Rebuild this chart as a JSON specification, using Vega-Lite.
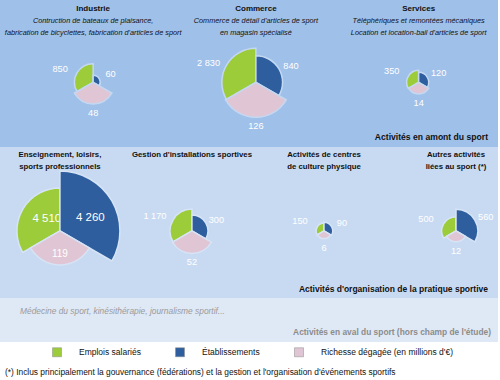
{
  "$schema": "https://vega.github.io/schema/vega-lite/v6.json",
  "padding": 0,
  "spacing": 0,
  "datasets": {
    "pies": [
      {"groupe": "amont", "activite": "Industrie", "mesure": "Emplois salariés", "valeur": 850},
      {"groupe": "amont", "activite": "Industrie", "mesure": "Établissements", "valeur": 60},
      {"groupe": "amont", "activite": "Industrie", "mesure": "Richesse dégagée (en millions d'€)", "valeur": 48},
      {"groupe": "amont", "activite": "Commerce", "mesure": "Emplois salariés", "valeur": 2830},
      {"groupe": "amont", "activite": "Commerce", "mesure": "Établissements", "valeur": 840},
      {"groupe": "amont", "activite": "Commerce", "mesure": "Richesse dégagée (en millions d'€)", "valeur": 126},
      {"groupe": "amont", "activite": "Services", "mesure": "Emplois salariés", "valeur": 350},
      {"groupe": "amont", "activite": "Services", "mesure": "Établissements", "valeur": 120},
      {"groupe": "amont", "activite": "Services", "mesure": "Richesse dégagée (en millions d'€)", "valeur": 14},
      {"groupe": "organisation", "activite": "Enseignement", "mesure": "Emplois salariés", "valeur": 4510},
      {"groupe": "organisation", "activite": "Enseignement", "mesure": "Établissements", "valeur": 4260},
      {"groupe": "organisation", "activite": "Enseignement", "mesure": "Richesse dégagée (en millions d'€)", "valeur": 119},
      {"groupe": "organisation", "activite": "Gestion", "mesure": "Emplois salariés", "valeur": 1170},
      {"groupe": "organisation", "activite": "Gestion", "mesure": "Établissements", "valeur": 300},
      {"groupe": "organisation", "activite": "Gestion", "mesure": "Richesse dégagée (en millions d'€)", "valeur": 52},
      {"groupe": "organisation", "activite": "Culture physique", "mesure": "Emplois salariés", "valeur": 150},
      {"groupe": "organisation", "activite": "Culture physique", "mesure": "Établissements", "valeur": 90},
      {"groupe": "organisation", "activite": "Culture physique", "mesure": "Richesse dégagée (en millions d'€)", "valeur": 6},
      {"groupe": "organisation", "activite": "Autres", "mesure": "Emplois salariés", "valeur": 500},
      {"groupe": "organisation", "activite": "Autres", "mesure": "Établissements", "valeur": 560},
      {"groupe": "organisation", "activite": "Autres", "mesure": "Richesse dégagée (en millions d'€)", "valeur": 12}
    ],
    "activites": [
      {"groupe": "amont", "activite": "Industrie", "titre": "Industrie", "detail": "Contruction de bateaux de plaisance,\nfabrication de bicyclettes, fabrication d'articles de sport"},
      {"groupe": "amont", "activite": "Commerce", "titre": "Commerce", "detail": "Commerce de détail d'articles de sport\nen magasin spécialisé"},
      {"groupe": "amont", "activite": "Services", "titre": "Services", "detail": "Téléphériques et remontées mécaniques\nLocation et location-bail d'articles de sport"},
      {"groupe": "organisation", "activite": "Enseignement", "titre": "Enseignement, loisirs,\nsports professionnels"},
      {"groupe": "organisation", "activite": "Gestion", "titre": "Gestion d'installations sportives"},
      {"groupe": "organisation", "activite": "Culture physique", "titre": "Activités de centres\nde culture physique"},
      {"groupe": "organisation", "activite": "Autres", "titre": "Autres activités\nliées au sport (*)"}
    ]
  },
  "title": {
    "text": "(*) Inclus principalement la gouvernance (fédérations) et la gestion et l'organisation d'événements sportifs",
    "orient": "bottom", "anchor": "start", "dx": 5, "offset": 10,
    "fontSize": 8.4, "fontWeight": "normal", "color": "#111111"
  },
  "vconcat": [
    {
      "width": 498, "height": 147,
      "view": {"fill": "#9fc0e9", "stroke": null},
      "encoding": {
        "x": {"field": "activite", "type": "nominal", "axis": null,
              "scale": {"type": "point", "domain": ["Industrie", "Commerce", "Services"], "padding": 0.53, "align": 0.54}},
        "y": {"field": "groupe", "type": "nominal", "axis": null,
              "scale": {"type": "point", "domain": ["amont"], "padding": 0.5, "align": 0.56}}
      },
      "layer": [
        {
          "data": {"name": "pies"},
          "transform": [{"filter": {"and": [{"field": "groupe", "equal": "amont"}, {"field": "mesure", "equal": "Emplois salariés"}]}}],
          "encoding": {
            "theta": {"field": "mesure", "type": "nominal", "scale": {"type": "band", "domain": ["Établissements", "Richesse dégagée (en millions d'€)", "Emplois salariés"], "paddingInner": 0, "paddingOuter": 0}},
            "radius": {"field": "valeur", "type": "quantitative", "stack": null, "scale": {"type": "sqrt", "zero": true, "domain": [0, 4510], "range": [0, 43]}}
          },
          "layer": [
            {"mark": {"type": "arc", "stroke": "#c4d8f2", "strokeWidth": 1.5},
             "encoding": {
               "color": {"field": "mesure", "type": "nominal",
                 "scale": {"domain": ["Emplois salariés", "Établissements", "Richesse dégagée (en millions d'€)"], "range": ["#9dcc3a", "#2e5e9e", "#e0c6d4"]},
                 "legend": {"title": null, "orient": "none", "legendX": 52, "legendY": 347, "direction": "horizontal", "symbolType": "square", "symbolSize": 81, "symbolStrokeColor": "#8a8a8a", "symbolStrokeWidth": 0.5, "labelFontSize": 8.5, "labelOffset": 17, "columnPadding": 33, "labelColor": "#111111"}}}},
            {"mark": {"type": "text", "radiusOffset": 17, "thetaOffset": -0.14, "fontSize": 9.2, "color": "white"},
             "encoding": {"text": {"field": "valeur", "type": "quantitative", "format": ",d"}}}
          ]
        },
        {
          "data": {"name": "pies"},
          "transform": [{"filter": {"and": [{"field": "groupe", "equal": "amont"}, {"field": "mesure", "equal": "Établissements"}]}}],
          "encoding": {
            "theta": {"field": "mesure", "type": "nominal", "scale": {"type": "band", "domain": ["Établissements", "Richesse dégagée (en millions d'€)", "Emplois salariés"], "paddingInner": 0, "paddingOuter": 0}},
            "radius": {"field": "valeur", "type": "quantitative", "stack": null, "scale": {"type": "sqrt", "zero": true, "domain": [0, 4260], "range": [0, 60]}}
          },
          "layer": [
            {"mark": {"type": "arc", "stroke": "#c4d8f2", "strokeWidth": 1.5},
             "encoding": {
               "color": {"field": "mesure", "type": "nominal",
                 "scale": {"domain": ["Emplois salariés", "Établissements", "Richesse dégagée (en millions d'€)"], "range": ["#9dcc3a", "#2e5e9e", "#e0c6d4"]},
                 "legend": {"title": null, "orient": "none", "legendX": 52, "legendY": 347, "direction": "horizontal", "symbolType": "square", "symbolSize": 81, "symbolStrokeColor": "#8a8a8a", "symbolStrokeWidth": 0.5, "labelFontSize": 8.5, "labelOffset": 17, "columnPadding": 33, "labelColor": "#111111"}}}},
            {"mark": {"type": "text", "radiusOffset": 12, "thetaOffset": 0.09, "fontSize": 9.2, "color": "white"},
             "encoding": {"text": {"field": "valeur", "type": "quantitative", "format": ",d"}}}
          ]
        },
        {
          "data": {"name": "pies"},
          "transform": [{"filter": {"and": [{"field": "groupe", "equal": "amont"}, {"field": "mesure", "equal": "Richesse dégagée (en millions d'€)"}]}}],
          "encoding": {
            "theta": {"field": "mesure", "type": "nominal", "scale": {"type": "band", "domain": ["Établissements", "Richesse dégagée (en millions d'€)", "Emplois salariés"], "paddingInner": 0, "paddingOuter": 0}},
            "radius": {"field": "valeur", "type": "quantitative", "stack": null, "scale": {"type": "sqrt", "zero": true, "domain": [0, 126], "range": [0, 35]}}
          },
          "layer": [
            {"mark": {"type": "arc", "stroke": "#c4d8f2", "strokeWidth": 1.5},
             "encoding": {
               "color": {"field": "mesure", "type": "nominal",
                 "scale": {"domain": ["Emplois salariés", "Établissements", "Richesse dégagée (en millions d'€)"], "range": ["#9dcc3a", "#2e5e9e", "#e0c6d4"]},
                 "legend": {"title": null, "orient": "none", "legendX": 52, "legendY": 347, "direction": "horizontal", "symbolType": "square", "symbolSize": 81, "symbolStrokeColor": "#8a8a8a", "symbolStrokeWidth": 0.5, "labelFontSize": 8.5, "labelOffset": 17, "columnPadding": 33, "labelColor": "#111111"}}}},
            {"mark": {"type": "text", "radiusOffset": 9, "fontSize": 9.2, "color": "white"},
             "encoding": {"text": {"field": "valeur", "type": "quantitative", "format": ",d"}}}
          ]
        },
        {
          "data": {"name": "activites"},
          "transform": [{"filter": {"field": "groupe", "equal": "amont"}}],
          "layer": [
            {"mark": {"type": "text", "fontWeight": "bold", "baseline": "top", "dy": -77, "fontSize": 8, "lineBreak": "\n", "lineHeight": 12, "color": "#111111"},
             "encoding": {"text": {"field": "titre"}}},
            {"mark": {"type": "text", "fontStyle": "italic", "baseline": "top", "dy": -65, "fontSize": 7.3, "lineBreak": "\n", "lineHeight": 11.5, "color": "#111111"},
             "encoding": {"text": {"field": "detail"}}}
          ]
        },
        {
          "data": {"values": [{"libelle": "Activités en amont du sport"}]},
          "mark": {"type": "text", "align": "right", "baseline": "bottom", "dx": -10, "dy": -5, "fontWeight": "bold", "fontSize": 8.6, "color": "#111111"},
          "encoding": {"x": {"value": "width"}, "y": {"value": "height"}, "text": {"field": "libelle"}}
        }
      ],
      "resolve": {"scale": {"radius": "independent"}}
    },
    {
      "width": 498, "height": 151,
      "view": {"fill": "#c8daf2", "stroke": null},
      "encoding": {
        "x": {"field": "activite", "type": "nominal", "axis": null,
              "scale": {"type": "point", "domain": ["Enseignement", "Gestion", "Culture physique", "Autres"], "padding": 0.386, "align": 0.588}},
        "y": {"field": "groupe", "type": "nominal", "axis": null,
              "scale": {"type": "point", "domain": ["organisation"], "padding": 0.5, "align": 0.556}}
      },
      "layer": [
        {
          "data": {"name": "pies"},
          "transform": [{"filter": {"and": [{"field": "groupe", "equal": "organisation"}, {"field": "mesure", "equal": "Emplois salariés"}]}}],
          "encoding": {
            "theta": {"field": "mesure", "type": "nominal", "scale": {"type": "band", "domain": ["Établissements", "Richesse dégagée (en millions d'€)", "Emplois salariés"], "paddingInner": 0, "paddingOuter": 0}},
            "radius": {"field": "valeur", "type": "quantitative", "stack": null, "scale": {"type": "sqrt", "zero": true, "domain": [0, 4510], "range": [0, 43]}}
          },
          "layer": [
            {"mark": {"type": "arc", "stroke": "#d6e4f6", "strokeWidth": 1.5},
             "encoding": {
               "color": {"field": "mesure", "type": "nominal",
                 "scale": {"domain": ["Emplois salariés", "Établissements", "Richesse dégagée (en millions d'€)"], "range": ["#9dcc3a", "#2e5e9e", "#e0c6d4"]},
                 "legend": {"title": null, "orient": "none", "legendX": 52, "legendY": 347, "direction": "horizontal", "symbolType": "square", "symbolSize": 81, "symbolStrokeColor": "#8a8a8a", "symbolStrokeWidth": 0.5, "labelFontSize": 8.5, "labelOffset": 17, "columnPadding": 33, "labelColor": "#111111"}}}},
            {"transform": [{"filter": {"not": {"field": "activite", "equal": "Enseignement"}}}],
             "mark": {"type": "text", "radiusOffset": 18, "thetaOffset": -0.14, "fontSize": 9.2, "color": "white"},
             "encoding": {"text": {"field": "valeur", "type": "quantitative", "format": ",d"}}},
            {"transform": [{"filter": {"field": "activite", "equal": "Enseignement"}}],
             "mark": {"type": "text", "radiusOffset": -25, "thetaOffset": 0.23, "fontSize": 11.5, "color": "white"},
             "encoding": {"text": {"field": "valeur", "type": "quantitative", "format": ",d"}}}
          ]
        },
        {
          "data": {"name": "pies"},
          "transform": [{"filter": {"and": [{"field": "groupe", "equal": "organisation"}, {"field": "mesure", "equal": "Établissements"}]}}],
          "encoding": {
            "theta": {"field": "mesure", "type": "nominal", "scale": {"type": "band", "domain": ["Établissements", "Richesse dégagée (en millions d'€)", "Emplois salariés"], "paddingInner": 0, "paddingOuter": 0}},
            "radius": {"field": "valeur", "type": "quantitative", "stack": null, "scale": {"type": "sqrt", "zero": true, "domain": [0, 4260], "range": [0, 60]}}
          },
          "layer": [
            {"mark": {"type": "arc", "stroke": "#d6e4f6", "strokeWidth": 1.5},
             "encoding": {
               "color": {"field": "mesure", "type": "nominal",
                 "scale": {"domain": ["Emplois salariés", "Établissements", "Richesse dégagée (en millions d'€)"], "range": ["#9dcc3a", "#2e5e9e", "#e0c6d4"]},
                 "legend": {"title": null, "orient": "none", "legendX": 52, "legendY": 347, "direction": "horizontal", "symbolType": "square", "symbolSize": 81, "symbolStrokeColor": "#8a8a8a", "symbolStrokeWidth": 0.5, "labelFontSize": 8.5, "labelOffset": 17, "columnPadding": 33, "labelColor": "#111111"}}}},
            {"transform": [{"filter": {"not": {"field": "activite", "equal": "Enseignement"}}}],
             "mark": {"type": "text", "radiusOffset": 11, "thetaOffset": 0.09, "fontSize": 9.2, "color": "white"},
             "encoding": {"text": {"field": "valeur", "type": "quantitative", "format": ",d"}}},
            {"transform": [{"filter": {"field": "activite", "equal": "Enseignement"}}],
             "mark": {"type": "text", "radiusOffset": -27, "thetaOffset": 0.12, "fontSize": 11.5, "color": "white"},
             "encoding": {"text": {"field": "valeur", "type": "quantitative", "format": ",d"}}}
          ]
        },
        {
          "data": {"name": "pies"},
          "transform": [{"filter": {"and": [{"field": "groupe", "equal": "organisation"}, {"field": "mesure", "equal": "Richesse dégagée (en millions d'€)"}]}}],
          "encoding": {
            "theta": {"field": "mesure", "type": "nominal", "scale": {"type": "band", "domain": ["Établissements", "Richesse dégagée (en millions d'€)", "Emplois salariés"], "paddingInner": 0, "paddingOuter": 0}},
            "radius": {"field": "valeur", "type": "quantitative", "stack": null, "scale": {"type": "sqrt", "zero": true, "domain": [0, 126], "range": [0, 35]}}
          },
          "layer": [
            {"mark": {"type": "arc", "stroke": "#d6e4f6", "strokeWidth": 1.5},
             "encoding": {
               "color": {"field": "mesure", "type": "nominal",
                 "scale": {"domain": ["Emplois salariés", "Établissements", "Richesse dégagée (en millions d'€)"], "range": ["#9dcc3a", "#2e5e9e", "#e0c6d4"]},
                 "legend": {"title": null, "orient": "none", "legendX": 52, "legendY": 347, "direction": "horizontal", "symbolType": "square", "symbolSize": 81, "symbolStrokeColor": "#8a8a8a", "symbolStrokeWidth": 0.5, "labelFontSize": 8.5, "labelOffset": 17, "columnPadding": 33, "labelColor": "#111111"}}}},
            {"transform": [{"filter": {"not": {"field": "activite", "equal": "Enseignement"}}}],
             "mark": {"type": "text", "radiusOffset": 9, "fontSize": 9.2, "color": "white"},
             "encoding": {"text": {"field": "valeur", "type": "quantitative", "format": ",d"}}},
            {"transform": [{"filter": {"field": "activite", "equal": "Enseignement"}}],
             "mark": {"type": "text", "radiusOffset": -10.5, "fontSize": 10, "color": "white"},
             "encoding": {"text": {"field": "valeur", "type": "quantitative", "format": ",d"}}}
          ]
        },
        {
          "data": {"name": "activites"},
          "transform": [{"filter": {"field": "groupe", "equal": "organisation"}}],
          "mark": {"type": "text", "fontWeight": "bold", "baseline": "top", "dy": -80, "fontSize": 7.8, "lineBreak": "\n", "lineHeight": 12, "color": "#111111"},
          "encoding": {"text": {"field": "titre"}}
        },
        {
          "data": {"values": [{"libelle": "Activités d'organisation de la pratique sportive"}]},
          "mark": {"type": "text", "align": "right", "baseline": "bottom", "dx": -10, "dy": -4, "fontWeight": "bold", "fontSize": 8.5, "color": "#111111"},
          "encoding": {"x": {"value": "width"}, "y": {"value": "height"}, "text": {"field": "libelle"}}
        }
      ],
      "resolve": {"scale": {"radius": "independent"}}
    },
    {
      "width": 498, "height": 44,
      "view": {"fill": "#dfe8f5", "stroke": null},
      "data": {"values": [{"description": "Médecine du sport, kinésithérapie, journalisme sportif...", "libelle": "Activités en aval du sport (hors champ de l'étude)"}]},
      "layer": [
        {"mark": {"type": "text", "align": "left", "baseline": "top", "dx": 20, "dy": 9, "fontStyle": "italic", "fontSize": 8.4, "color": "#9a9a9a"},
         "encoding": {"x": {"value": 0}, "y": {"value": 0}, "text": {"field": "description"}}},
        {"mark": {"type": "text", "align": "right", "baseline": "bottom", "dx": -7, "dy": -5, "fontSize": 8.4, "fontWeight": "bold", "color": "#8c8c8c"},
         "encoding": {"x": {"value": "width"}, "y": {"value": "height"}, "text": {"field": "libelle"}}}
      ]
    }
  ],
  "config": {
    "font": "Liberation Sans, Arial, sans-serif",
    "view": {"stroke": null},
    "locale": {"number": {"decimal": ",", "thousands": " ", "grouping": [3], "currency": ["", " €"]}}
  }
}
